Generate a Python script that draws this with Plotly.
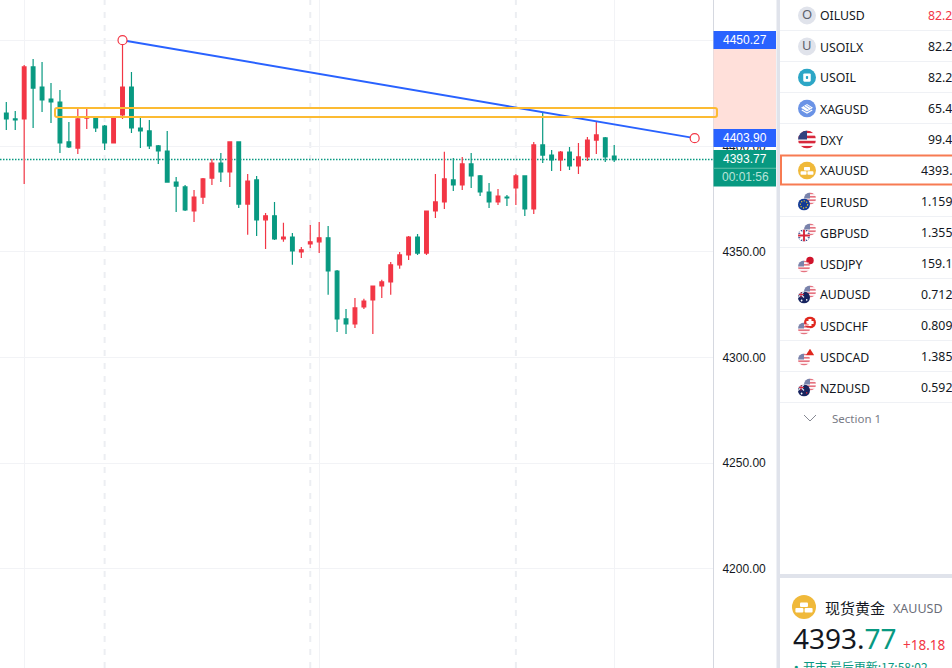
"""Gold spot candles with a watchlist panel, in the style of a trading terminal."""
import base64

import plotly.graph_objects as go

W, H = 952, 668

# ---------- chart data ----------
opens = [4415.8, 4413.0, 4413.0, 4437.6, 4428.1, 4422.4, 4421.0, 4402.1, 4399.2, 4413.4,
         4413.4, 4409.6, 4401.6, 4414.9, 4428.1, 4408.7, 4407.3, 4400.2, 4397.8, 4383.1,
         4380.8, 4369.4, 4376.0, 4385.0, 4392.1, 4387.9, 4402.1, 4372.7, 4384.1, 4365.2,
         4367.1, 4356.2, 4357.1, 4350.0, 4353.8, 4354.8, 4356.7, 4341.0, 4318.3, 4315.9,
         4324.0, 4327.3, 4333.9, 4335.8, 4343.9, 4348.6, 4357.1, 4349.5, 4369.4, 4373.7,
         4384.1, 4381.7, 4391.7, 4386.0, 4378.4, 4373.7, 4376.0, 4380.3, 4386.0, 4370.4,
         4400.7, 4395.9, 4393.6, 4397.3, 4390.7, 4395.0, 4403.0, 4404.0, 4395.4]
highs = [4421.0, 4416.7, 4438.5, 4441.4, 4439.9, 4430.0, 4426.7, 4411.5, 4418.2, 4418.2,
         4413.7, 4410.1, 4413.6, 4450.27, 4435.2, 4413.4, 4412.5, 4400.6, 4407.3, 4385.5,
         4381.7, 4379.3, 4385.0, 4394.0, 4396.9, 4402.1, 4402.1, 4386.9, 4386.0, 4368.5,
         4373.7, 4363.8, 4359.0, 4352.4, 4362.8, 4364.2, 4362.3, 4341.5, 4323.0, 4328.2,
         4327.8, 4333.9, 4336.8, 4345.3, 4350.0, 4357.6, 4358.5, 4369.4, 4386.9, 4397.4,
         4394.5, 4395.0, 4396.9, 4386.5, 4382.7, 4379.8, 4377.0, 4386.9, 4386.0, 4402.1,
         4416.3, 4398.3, 4397.8, 4399.7, 4401.6, 4404.4, 4411.5, 4404.4, 4400.7]
lows = [4407.8, 4407.8, 4382.2, 4408.7, 4416.3, 4411.1, 4396.9, 4399.2, 4396.4, 4408.2,
        4406.8, 4398.3, 4401.4, 4413.0, 4406.3, 4399.2, 4398.8, 4391.7, 4383.0, 4368.9,
        4369.4, 4364.2, 4372.7, 4381.7, 4383.1, 4380.8, 4370.8, 4358.1, 4357.6, 4351.4,
        4355.7, 4354.8, 4343.9, 4347.2, 4351.9, 4349.5, 4329.7, 4312.1, 4311.2, 4314.0,
        4323.0, 4311.2, 4328.2, 4329.7, 4342.0, 4346.2, 4348.6, 4348.6, 4366.1, 4370.4,
        4378.9, 4379.4, 4380.3, 4376.5, 4370.8, 4372.2, 4371.8, 4372.2, 4367.0, 4368.0,
        4392.1, 4388.3, 4388.3, 4388.8, 4386.9, 4393.1, 4396.4, 4392.6, 4392.6]
closes = [4413.0, 4412.5, 4437.6, 4427.6, 4422.0, 4421.0, 4401.6, 4399.7, 4413.0, 4413.9,
          4408.7, 4401.6, 4413.4, 4428.1, 4408.7, 4407.3, 4400.2, 4397.8, 4383.1, 4381.2,
          4369.9, 4376.0, 4384.6, 4392.1, 4387.9, 4402.1, 4372.7, 4383.6, 4365.2, 4367.1,
          4356.2, 4357.1, 4350.5, 4351.0, 4354.8, 4356.7, 4341.0, 4318.3, 4315.9, 4323.5,
          4326.8, 4333.9, 4335.8, 4343.9, 4348.6, 4357.1, 4349.5, 4369.4, 4373.7, 4384.6,
          4381.7, 4391.7, 4386.0, 4378.4, 4373.7, 4376.5, 4375.6, 4386.0, 4370.4, 4400.7,
          4395.9, 4393.6, 4397.3, 4390.7, 4395.0, 4403.0, 4405.4, 4395.0, 4393.77]
bars = list(range(len(opens)))

price_ticks = [4200, 4250, 4300, 4350, 4400, 4450]
price_labels = ["4200.00", "4250.00", "4300.00", "4350.00", "4400.00", "4450.00"]
solid_grid_bars = [2, 35, 68]
dashed_grid_bars = [11, 34, 57]

trend_bars = [13, 77]
trend_prices = [4450.27, 4403.90]
zone_prices = [4413.9, 4418.2]
last_price = 4393.77

# ---------- watchlist data ----------
symbols = ["OILUSD", "USOILX", "USOIL", "XAGUSD", "DXY", "XAUUSD", "EURUSD",
           "GBPUSD", "USDJPY", "AUDUSD", "USDCHF", "USDCAD", "NZDUSD"]
quotes = ["82.2", "82.2", "82.2", "65.4", "99.4", "4393.", "1.159",
          "1.355", "159.1", "0.712", "0.809", "1.385", "0.592"]
icons = ["O", "U", "usoil", "silver", "us", "gold", ("us", "eu"),
         ("us", "uk"), ("jp", "us"), ("us", "au"), ("ch", "us"), ("ca", "us"), ("us", "nz")]

RED, GREEN, BLUE = "#f23645", "#089981", "#2962ff"
LINE = "#e0e3eb"
GRID = "#f2f3f6"
LATIN = "Noto Sans"
MONO = "Liberation Sans"
CJK = "Noto Sans CJK SC"
Y_RANGE = [4153.03, 4469.3]


def px(x):
    return x / W


def py(y):
    return 1 - y / H


def price_to_paper(p):
    return (p - Y_RANGE[0]) / (Y_RANGE[1] - Y_RANGE[0])


def rect(x0, y0, x1, y1, fill=None, line=None, width=0):
    return dict(type="rect", xref="paper", yref="paper", layer="above",
                x0=px(x0), x1=px(x1), y0=py(y0), y1=py(y1),
                fillcolor=fill or "rgba(0,0,0,0)",
                line=dict(color=line or "rgba(0,0,0,0)", width=width))


def label(x, y, text, size=12.5, color="#131722", family=LATIN, anchor="left"):
    return dict(xref="paper", yref="paper", x=px(x), y=py(y), text=text, showarrow=False,
                xanchor=anchor, yanchor="middle", borderpad=0,
                font=dict(size=size, color=color, family=family))


def rounded_zone(x0, x1, p0, p1, r=2.0):
    """Yellow price zone, it runs a little over the price axis so it is not clipped to x."""
    y0, y1 = price_to_paper(p1), price_to_paper(p0)
    rx, ry = r / W, r / H
    left, right = px(x0), px(x1)
    path = (f"M {left + rx} {y0} L {right - rx} {y0} Q {right} {y0} {right} {y0 - ry} "
            f"L {right} {y1 + ry} Q {right} {y1} {right - rx} {y1} "
            f"L {left + rx} {y1} Q {left} {y1} {left} {y1 + ry} "
            f"L {left} {y0 - ry} Q {left} {y0} {left + rx} {y0} Z")
    return dict(type="path", xref="paper", yref="paper", layer="above", path=path,
                fillcolor="rgba(0,0,0,0)", line=dict(color="#fcbb33", width=2))


def _flag(kind, cx, cy, r, pale=False):
    """One round flag as svg, clipped to its circle."""
    cid = f"c{kind}{int(cx)}"
    x, y, d = cx - r, cy - r, 2 * r
    parts = []
    if kind == "us":
        parts.append(f'<rect x="{x}" y="{y}" width="{d}" height="{d}" fill="#fff"/>')
        for k in range(0, 7, 2):
            parts.append(f'<rect x="{x}" y="{y + k * d / 7}" width="{d}" height="{d / 7}" fill="#d8283c"/>')
        parts.append(f'<rect x="{x}" y="{y}" width="{d * .5}" height="{d * .5}" fill="#33417f"/>')
    elif kind == "uk":
        parts.append(f'<rect x="{x}" y="{y}" width="{d}" height="{d}" fill="#1f2f7c"/>')
        parts.append(f'<path d="M{x} {y}L{x + d} {y + d}M{x + d} {y}L{x} {y + d}" stroke="#fff" stroke-width="{d * .2}"/>')
        parts.append(f'<path d="M{cx} {y}V{y + d}M{x} {cy}H{x + d}" stroke="#fff" stroke-width="{d * .3}"/>')
        parts.append(f'<path d="M{cx} {y}V{y + d}M{x} {cy}H{x + d}" stroke="#d8283c" stroke-width="{d * .16}"/>')
    elif kind == "eu":
        parts.append(f'<rect x="{x}" y="{y}" width="{d}" height="{d}" fill="#123a96"/>')
        parts.append(f'<circle cx="{cx}" cy="{cy}" r="{r * .6}" fill="none" stroke="#e8c832" stroke-width="{r * .2}" stroke-dasharray="{r * .2} {r * .25}"/>')
    elif kind in ("au", "nz"):
        parts.append(f'<rect x="{x}" y="{y}" width="{d}" height="{d}" fill="#17245f"/>')
        parts.append(f'<path d="M{x} {y}L{cx} {cy}M{cx} {y}L{x} {cy}" stroke="#e8e8f0" stroke-width="{d * .1}"/>')
        parts.append(f'<path d="M{x + r * .5} {y}V{cy}M{x} {y + r * .5}H{cx}" stroke="#d8283c" stroke-width="{d * .08}"/>')
        dot = "#fff" if kind == "au" else "#d8283c"
        parts.append(f'<circle cx="{cx + r * .45}" cy="{cy + r * .4}" r="{r * .13}" fill="{dot}"/>')
        parts.append(f'<circle cx="{cx - r * .4}" cy="{cy + r * .5}" r="{r * .15}" fill="#fff"/>')
    elif kind == "jp":
        parts.append(f'<rect x="{x}" y="{y}" width="{d}" height="{d}" fill="#fff"/>')
        parts.append(f'<circle cx="{cx}" cy="{cy}" r="{r * .62}" fill="#d0142c"/>')
    elif kind == "ch":
        parts.append(f'<rect x="{x}" y="{y}" width="{d}" height="{d}" fill="#e0281e"/>')
        parts.append(f'<path d="M{cx} {y + r * .4}V{y + d - r * .4}M{x + r * .4} {cy}H{x + d - r * .4}" stroke="#fff" stroke-width="{r * .5}"/>')
    elif kind == "ca":
        parts.append(f'<rect x="{x}" y="{y}" width="{d}" height="{d}" fill="#fff"/>')
        parts.append(f'<path d="M{cx} {cy - r * .8}L{cx + r * .7} {cy + r * .3}H{cx - r * .7}Z" fill="#e0281e"/>')
    op = ' opacity="0.65"' if pale else ""
    return (f'<clipPath id="{cid}"><circle cx="{cx}" cy="{cy}" r="{r}"/></clipPath>'
            f'<g clip-path="url(#{cid})"{op}>{"".join(parts)}</g>')


def _gold():
    bars_svg = "".join(f'<rect x="{bx}" y="{by}" width="8" height="4.6" rx="1" fill="#fff"/>'
                       for bx, by in [(8, 7.4), (3.4, 13), (12.6, 13)])
    return f'<circle cx="12" cy="12" r="12" fill="#f0b93a"/>{bars_svg}'


def icon_image(kind, x, y, size):
    """Layout image for a watchlist icon centred on pixel (x, y)."""
    if kind == "gold":
        body = _gold()
    elif kind == "usoil":
        body = ('<circle cx="12" cy="12" r="12" fill="#2ca6c6"/>'
                '<rect x="7" y="6.5" width="10" height="11" rx="1.5" fill="#fff"/>'
                '<rect x="10.5" y="10" width="3" height="4" rx="1" fill="#2ca6c6"/>')
    elif kind == "silver":
        body = ('<circle cx="12" cy="12" r="12" fill="#6a93e6"/>'
                '<path d="M4 11L12 6L20 11L12 16Z" fill="#fff"/>'
                '<path d="M5 14L12 18L19 14" fill="none" stroke="#fff" stroke-width="1.5"/>'
                '<path d="M8 9L14 13M11 7.5L17 11" stroke="#6a93e6" stroke-width="1"/>')
    elif isinstance(kind, tuple):
        # (back, front): the dollar is always the pale one
        back, front = kind
        body = (_flag(back, 16, 8, 8, pale=back == "us")
                + _flag(front, 8, 16, 8, pale=front == "us"))
    else:
        body = _flag(kind, 12, 12, 12)
    svg = f'<svg xmlns="http://www.w3.org/2000/svg" width="24" height="24" viewBox="0 0 24 24">{body}</svg>'
    uri = "data:image/svg+xml;base64," + base64.b64encode(svg.encode()).decode()
    return dict(source=uri, xref="paper", yref="paper", x=px(x - size / 2), y=py(y - size / 2),
                sizex=size / W, sizey=size / H, xanchor="left", yanchor="top",
                sizing="stretch", layer="above")


fig = go.Figure()
fig.add_trace(go.Candlestick(
    x=bars, open=opens, high=highs, low=lows, close=closes,
    increasing=dict(line=dict(color=RED, width=1.2), fillcolor=RED),
    decreasing=dict(line=dict(color=GREEN, width=1.2), fillcolor=GREEN),
    whiskerwidth=0, hoverinfo="skip", showlegend=False,
))
fig.add_trace(go.Scatter(
    x=trend_bars, y=trend_prices, mode="lines+markers", hoverinfo="skip", showlegend=False,
    line=dict(color=BLUE, width=2),
    marker=dict(size=9, color="#fff", line=dict(color=RED, width=1.2)),
))

# ---------- chart furniture ----------
shapes = []
for b in dashed_grid_bars:
    shapes.append(dict(type="line", xref="x", yref="paper", x0=b, x1=b, y0=0, y1=1, layer="below",
                       line=dict(color="#eceef2", width=2, dash="6px,7px")))
shapes.append(dict(type="line", xref="paper", yref="y", x0=0, x1=px(713), y0=last_price, y1=last_price,
                   layer="below", line=dict(color=GREEN, width=1.5, dash="1.5px,1.5px")))

# price axis tags
shapes.append(rect(713.5, 49, 776, 129, fill="#ffe0da"))
shapes.append(rect(713.5, 31, 776, 49, fill=BLUE))
shapes.append(rect(713.5, 129, 776, 147, fill=BLUE))
shapes.append(rect(713.5, 150, 776, 186.5, fill=GREEN))
shapes.append(rect(713.5, 167.8, 776, 168.8, fill="#5fbfa9"))

# the zone sits on top of the pink axis band
shapes.append(rounded_zone(55, 717, zone_prices[0], zone_prices[1]))

# panel frames
shapes.append(rect(776.5, 0, 780, H, fill=LINE))
shapes.append(rect(780, 574, W, 578, fill=LINE))
for k in range(13):
    if k not in (4, 5):
        shapes.append(rect(780, 30.5 + 31 * k, W, 31 + 31 * k, fill=LINE))
shapes.append(rect(781, 155.5, W + 3, 184.5, line="#f77b52", width=2))
shapes.append(dict(type="path", xref="paper", yref="paper", layer="above",
                   path=f"M {px(804)} {py(415)} L {px(810)} {py(421)} L {px(816)} {py(415)}",
                   line=dict(color="#868993", width=1)))

annotations = [
    label(745, 40, "4450.27", 12, "#fff", MONO, "center"),
    label(745, 138, "4403.90", 12, "#fff", MONO, "center"),
    label(745, 159, "4393.77", 12, "#fff", MONO, "center"),
    label(745, 177, "00:01:56", 12, "#b9e4d9", MONO, "center"),
]

images = []
for k, (sym, quote, kind) in enumerate(zip(symbols, quotes, icons)):
    yc = 15.5 + 31 * k
    annotations.append(label(818.5, yc + 0.5, sym, 12.3))
    qx = 926.5 if k < 5 else 919.5
    annotations.append(label(qx, yc, quote, 12.3, RED if k == 0 else "#131722"))
    if kind in ("O", "U"):
        shapes.append(dict(type="circle", xref="paper", yref="paper", layer="above",
                           x0=px(798), x1=px(816), y0=py(yc - 9), y1=py(yc + 9),
                           fillcolor="#e0e3eb", line=dict(width=0)))
        annotations.append(label(807, yc - 1, kind, 13, "#5d606b", LATIN, "center"))
    else:
        images.append(icon_image(kind, 807, yc, 18))

annotations.append(label(831, 418.5, "Section 1", 11.5, "#787b86"))

# quote card at the bottom
images.append(icon_image("gold", 804, 607, 24))
annotations += [
    label(824, 607, "现货黄金", 15, "#131722", CJK),
    label(891.5, 608, "XAUUSD", 12.5, "#6a6d78"),
    label(792, 638, f'4393.<span style="color:{GREEN}">77</span>', 28, "#131722"),
    label(901.5, 645, "+18.18", 13.5, RED),
    label(792.5, 666, "●", 7, GREEN, LATIN),
    label(802, 666, "开市 最后更新:17:58:02", 12, GREEN, CJK),
]

fig.update_layout(
    width=W, height=H, margin=dict(l=0, r=0, t=0, b=0), autosize=False,
    paper_bgcolor="#fff", plot_bgcolor="#fff", showlegend=False, boxgap=0.41, boxgroupgap=0.3,
    shapes=shapes, annotations=annotations, images=images, hovermode=False,
)
fig.update_xaxes(
    domain=[0, 713 / W], range=[-0.705, 79.05], rangeslider_visible=False,
    tickvals=solid_grid_bars, showticklabels=False, ticks="", showgrid=True,
    gridcolor=GRID, gridwidth=1, zeroline=False, showline=False,
)
fig.update_yaxes(
    side="right", range=Y_RANGE, tickvals=price_ticks, ticktext=price_labels,
    ticks="outside", ticklen=6, tickcolor="rgba(0,0,0,0)", showgrid=True, gridcolor=GRID,
    gridwidth=1, zeroline=False, showline=True, linecolor="#d5d8e0", linewidth=1,
    tickfont=dict(size=12, color="#131722", family=MONO),
)

fig.write_html("out.html", config=dict(displayModeBar=False),
               post_script="document.body.style.margin='0';document.body.style.overflow='hidden';")
